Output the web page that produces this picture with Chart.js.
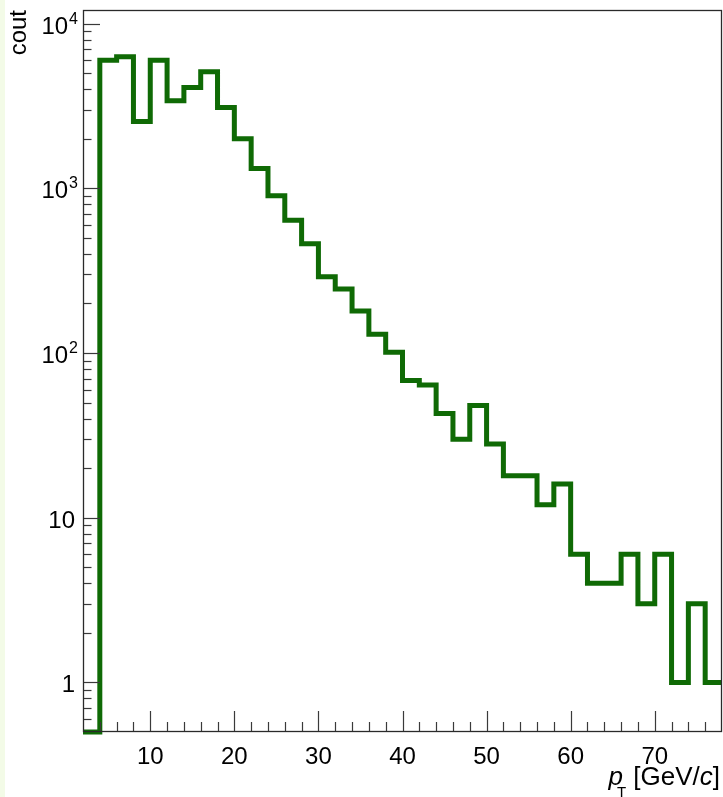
<!DOCTYPE html>
<html>
<head>
<meta charset="utf-8">
<script src="https://cdn.jsdelivr.net/npm/chart.js@4/dist/chart.umd.min.js"></script>
<style>
  html, body { margin: 0; padding: 0; }
  body {
    width: 723px; height: 797px; overflow: hidden;
    background: linear-gradient(to right, #f3fbe7 0, #f3fbe7 5px, #ffffff 5px);
  }
  #wrap { position: relative; width: 723px; height: 797px; }
</style>
</head>
<body>
<div id="wrap"><canvas id="c" width="723" height="797"></canvas></div>
<script>
// pT spectrum, 2 GeV/c bins from 2 to 78 GeV/c (low bin edges)
const binLowEdges = [2, 4, 6, 8, 10, 12, 14, 16, 18, 20, 22, 24, 26, 28, 30, 32, 34, 36, 38,
                     40, 42, 44, 46, 48, 50, 52, 54, 56, 58, 60, 62, 64, 66, 68, 70, 72, 74, 76];
const binCounts   = [0, 6000, 6300, 2550, 6000, 3400, 4100, 5100, 3100, 2000, 1320, 900, 640, 460, 290, 245, 180, 130, 101,
                     68, 64, 43, 30, 48, 28, 18, 18, 12, 16, 6, 4, 4, 6, 3, 6, 1, 3, 1];
const binWidth = 2;

// axis ranges and ticks
const xRange = [2, 78];
const yRange = [0.5, 12100];
const xLabelTicks = [10, 20, 30, 40, 50, 60, 70];
const xMinorStep = 2;
const yDecades = [0.1, 1, 10, 100, 1000, 10000];
// decade labels: [mantissa text, exponent text]
const yLabelTicks = [1, 10, 100, 1000, 10000];
const yLabelParts = [['1', ''], ['10', ''], ['10', '2'], ['10', '3'], ['10', '4']];

const FONT = "'Liberation Sans', Arial, Helvetica, sans-serif";
const LINE_COLOR = '#0f6a05';

// histogram outline: one point per low edge, plus the upper edge of the last bin;
// empty bins sit on the lower edge of the log axis
const outline = binLowEdges.map((x, i) => ({ x: x, y: Math.max(binCounts[i], yRange[0]) }));
outline.push({ x: binLowEdges[binLowEdges.length - 1] + binWidth, y: Math.max(binCounts[binCounts.length - 1], yRange[0]) });

// inward tick marks, frame, y decade labels and the x-axis title (drawn over the histogram)
const frameAndTicks = {
  id: 'frameAndTicks',
  afterDatasetsDraw(chart) {
    const { ctx, chartArea: a, scales } = chart;
    const xs = scales.x, ys = scales.y;
    ctx.save();
    ctx.lineCap = 'butt';

    // minor/major ticks on x
    ctx.strokeStyle = '#3a3a3a';
    ctx.lineWidth = 1.2;
    for (let v = xRange[0] + xMinorStep; v < xRange[1]; v += xMinorStep) {
      const px = Math.round(xs.getPixelForValue(v)) + 0.5;
      const len = xLabelTicks.includes(v) ? 21 : 10;
      ctx.beginPath();
      ctx.moveTo(px, a.bottom);
      ctx.lineTo(px, a.bottom - len);
      ctx.stroke();
    }
    // decade and sub-decade ticks on y
    for (const d of yDecades) {
      for (let m = 1; m <= 9; m++) {
        const v = m * d;
        if (v <= yRange[0] || v >= yRange[1]) continue;
        const py = Math.round(ys.getPixelForValue(v)) + 0.5;
        const len = m === 1 ? 17 : 8.5;
        ctx.beginPath();
        ctx.moveTo(a.left, py);
        ctx.lineTo(a.left + len, py);
        ctx.stroke();
      }
    }

    // frame
    ctx.strokeStyle = '#2a2a2a';
    ctx.lineWidth = 1.3;
    ctx.strokeRect(a.left + 0.5, a.top + 0.5, a.right - a.left - 1, a.bottom - a.top - 1);

    // y decade labels with raised exponents, right aligned left of the axis
    ctx.fillStyle = '#000';
    ctx.textBaseline = 'alphabetic';
    ctx.textAlign = 'right';
    yLabelTicks.forEach((v, i) => {
      const [mant, exp] = yLabelParts[i];
      const py = ys.getPixelForValue(v);
      const baseY = py + 10;
      if (exp) {
        ctx.font = '16px ' + FONT;
        const ew = ctx.measureText(exp).width;
        ctx.fillText(exp, a.left - 5, baseY - 10);
        ctx.font = '24px ' + FONT;
        ctx.fillText(mant, a.left - 6 - ew, baseY);
      } else {
        ctx.font = '24px ' + FONT;
        ctx.fillText(mant, a.left - 8, baseY);
      }
    });

    // x-axis title: p_T [GeV/c], right aligned to the frame
    const base = 785;
    const parts = [
      { t: 'p', f: 'italic 26px ' + FONT, dy: 0 },
      { t: 'T', f: '15px ' + FONT, dy: 12, back: 6 },
      { t: ' [GeV/', f: '26px ' + FONT, dy: 0 },
      { t: 'c', f: 'italic 26px ' + FONT, dy: 0 },
      { t: ']', f: '26px ' + FONT, dy: 0 }
    ];
    let total = 0;
    for (const p of parts) { ctx.font = p.f; total += ctx.measureText(p.t).width - (p.back || 0); }
    let x = a.right - 2 - total;
    ctx.textAlign = 'left';
    for (const p of parts) {
      ctx.font = p.f;
      x -= (p.back || 0);
      ctx.fillText(p.t, x, base + p.dy);
      x += ctx.measureText(p.t).width;
    }
    ctx.restore();
  }
};

new Chart(document.getElementById('c'), {
  type: 'line',
  data: {
    datasets: [{
      label: 'cout',
      data: outline,
      stepped: 'before',
      borderColor: LINE_COLOR,
      borderWidth: 5,
      borderJoinStyle: 'miter',
      borderCapStyle: 'butt',
      pointRadius: 0,
      fill: false,
      clip: 4
    }]
  },
  options: {
    responsive: false,
    devicePixelRatio: 1,
    animation: false,
    events: [],
    layout: { padding: { top: 10, right: 1, left: 0, bottom: 0 } },
    plugins: { legend: { display: false }, tooltip: { enabled: false }, title: { display: false } },
    scales: {
      x: {
        type: 'linear',
        min: xRange[0],
        max: xRange[1],
        grid: { display: false },
        border: { display: false },
        afterBuildTicks: (s) => { s.ticks = xLabelTicks.map(v => ({ value: v })); },
        afterFit: (s) => { s.height = 65; s.paddingLeft = 0; s.paddingRight = 0; },
        ticks: {
          autoSkip: false,
          maxRotation: 0,
          padding: 3,
          color: '#000',
          font: { family: FONT, size: 24 },
          callback: (v) => String(v)
        }
      },
      y: {
        type: 'logarithmic',
        min: yRange[0],
        max: yRange[1],
        grid: { display: false },
        border: { display: false },
        afterBuildTicks: (s) => { s.ticks = yLabelTicks.map(v => ({ value: v })); },
        afterFit: (s) => { s.width = 83; s.paddingTop = 0; s.paddingBottom = 0; },
        title: {
          display: true,
          text: 'cout',
          align: 'end',
          color: '#000',
          font: { family: FONT, size: 24 },
          padding: { top: 5, bottom: 0 }
        },
        ticks: { display: false }
      }
    }
  },
  plugins: [frameAndTicks]
});
</script>
</body>
</html>
